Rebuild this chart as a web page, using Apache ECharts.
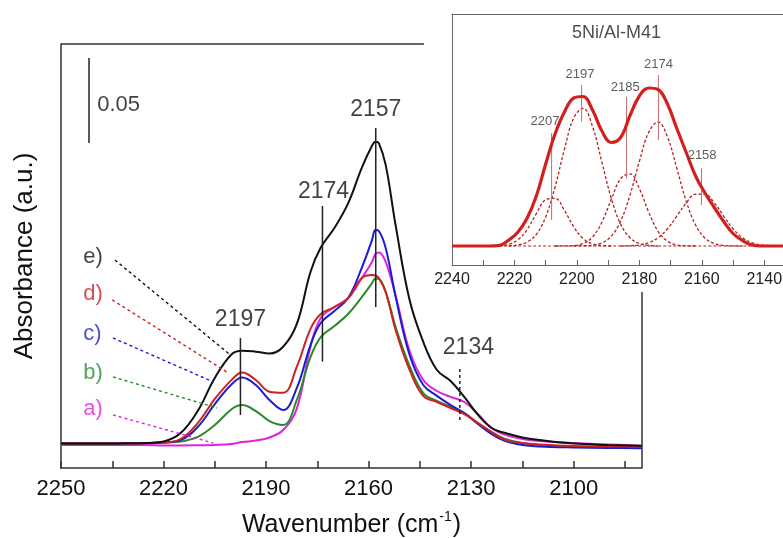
<!DOCTYPE html>
<html><head><meta charset="utf-8">
<script src="https://cdn.jsdelivr.net/npm/echarts@6/dist/echarts.min.js"></script>
<style>html,body{margin:0;padding:0;background:#fff}#c{width:783px;height:538px}</style>
</head><body><div id="c"></div><script>
// ---------- main spectra ----------
const wavenumbers = [2250,2240,2230,2225,2220,2215,2210,2205,2200,2197,2193,2189,2185,2181,2177,2174,2170,2166,2162,2159,2158,2157,2155,2152,2148,2144,2140,2136,2132,2128,2124,2120,2115,2110,2100,2090,2080];
const spectrumA = [.0136,.0136,.0136,.0136,.0133,.0133,.0134,.0136,.0142,.0153,.0162,.0180,.0224,.0350,.0715,.0884,.0949,.1002,.1120,.1215,.1262,.1270,.1215,.1008,.0690,.0519,.0454,.0419,.0389,.0318,.0236,.0195,.0171,.0159,.0147,.0139,.0131];
const spectrumB = [.0144,.0144,.0146,.0147,.0150,.0156,.0183,.0254,.0348,.0371,.0336,.0277,.0254,.0401,.0654,.0772,.0837,.0908,.1008,.1090,.1118,.1115,.1038,.0825,.0601,.0442,.0395,.0360,.0324,.0265,.0212,.0171,.0147,.0136,.0127,.0124,.0121];
const spectrumC = [.0144,.0144,.0146,.0147,.0150,.0165,.0242,.0377,.0495,.0534,.0489,.0401,.0342,.0472,.0725,.0855,.0926,.1002,.1180,.1344,.1403,.1397,.1297,.1002,.0666,.0489,.0425,.0371,.0324,.0259,.0200,.0159,.0136,.0127,.0121,.0118,.0116];
const spectrumD = [.0144,.0144,.0146,.0147,.0150,.0171,.0265,.0407,.0521,.0563,.0519,.0450,.0444,.0597,.0820,.0908,.0949,.1000,.1120,.1138,.1135,.1120,.1038,.0808,.0578,.0425,.0389,.0354,.0318,.0265,.0212,.0165,.0147,.0139,.0130,.0127,.0126];
const spectrumE = [.0144,.0144,.0146,.0147,.0156,.0206,.0336,.0531,.0672,.0692,.0686,.0675,.0715,.0850,.1156,.1300,.1415,.1560,.1770,.1900,.1924,.1916,.1787,.1420,.0990,.0743,.0578,.0513,.0419,.0313,.0236,.0206,.0180,.0165,.0144,.0136,.0131];

const mainTicks = [2250,2235,2220,2205,2190,2175,2160,2145,2130,2115,2100,2085];
const mainTickLabels = [2250,2220,2190,2160,2130,2100];

const sampleNames = ['a)','b)','c)','d)','e)'];
const sampleLabelX = 2243.5;
const sampleLabelY = [0.0348,0.0560,0.0790,0.1026,0.1244];
const leaderStart = [[2234.8,0.0313],[2234.8,0.0537],[2234.8,0.0767],[2235.0,0.0991],[2234.2,0.1226]];
const leaderEnd = [[2205.4,0.0147],[2204.3,0.0354],[2205.4,0.0507],[2201.0,0.0560],[2200.4,0.0666]];

const mainPeakNames = ['2197','2174','2157','2134'];
const mainPeakLineX = [2197.5,2173.5,2157.9,2133.3];
const mainPeakLineTop = [0.0767,0.1545,0.2005,0.0584];
const mainPeakLineBottom = [0.0313,0.0627,0.0949,0.0271];
const mainPeakTextX = [2197.5,2173.2,2157.9,2130.8];
const mainPeakTextY = [0.0873,0.1627,0.2111,0.0708];

const scaleBarX = 2241.8, scaleBarTop = 0.2417, scaleBarBottom = 0.1916;
const scaleBarText = '0.05', scaleTextX = 2239.4, scaleTextY = 0.214;

// ---------- inset (deconvolution) ----------
const insetWn = [2240,2228,2225,2222,2219,2216,2213,2210,2207,2204,2201,2198,2195,2192,2189,2186,2183,2180,2177,2174,2171,2168,2165,2162,2159,2156,2153,2150,2147,2144,2141,2134];
const envelope = [0,0,0.5,5.5,13.5,27.5,50,82,112,134,148,149.5,136,115,103.5,108.5,130.5,150,158,156.5,142,117.5,93.5,70,53,38.5,24.5,12.5,5.5,1,0,0];
const band2207 = [null,0,0.3,1.5,5.9,16.2,32.3,46.2,47.7,35.6,19.1,7.4,2.1,0.4,0,null,null,null,null,null,null,null,null,null,null,null,null,null,null,null,null,null];
const band2197 = [null,null,0,0.2,1.0,3.8,11.6,29.1,59,96.7,128.2,137.6,119.5,83.9,47.8,21.9,8.2,2.4,0.6,0,null,null,null,null,null,null,null,null,null,null,null,null];
const band2185 = [null,null,null,null,null,null,null,null,0,0.1,0.5,2.5,9.0,23.8,46.5,67.3,72.2,57.4,33.8,14.7,4.8,1.1,0.2,0,null,null,null,null,null,null,null,null];
const band2174 = [null,null,null,null,null,null,null,null,null,null,0,0.2,0.8,3.1,9.8,24.8,50.9,84.6,113.8,124,109.1,77.7,44.8,21,7.9,2.4,0.6,0.1,0,null,null,null];
const band2158 = [null,null,null,null,null,null,null,null,null,null,null,null,null,null,null,0,0.3,1.1,3.3,8.3,17.2,29.9,43.1,51.8,51.8,43.1,29.9,17.2,8.3,3.3,1.1,0];
const insetBaseline = [[2222,0],[2140,0]];

const insetTicks = [2240,2230,2220,2210,2200,2190,2180,2170,2160,2150,2140];
const insetTickLabels = [2240,2220,2200,2180,2160,2140];
const insetPeakNames = ['2207','2197','2185','2174','2158'];
const insetLineX = [2208.1,2198.5,2184.1,2173.9,2160.1];
const insetLineTop = [112.7,161,149.3,171,77.7];
const insetLineBottom = [26,124.3,67.7,106,41];
const insetTextX = [2210.2,2199.0,2184.5,2173.9,2159.9];
const insetTextY = [124.3,172,158.7,182,91];
const insetTitle = '5Ni/Al-M41', insetTitleX = 2187.3, insetTitleY = 213;

// ---------- build ----------
const FONT = '"Liberation Sans", Arial, sans-serif';
const colors = {a:'#e022e0', b:'#2a8a2a', c:'#1c1cd2', d:'#cc2222', e:'#111111'};
const sampleColors = [colors.a, colors.b, colors.c, colors.d, colors.e];
const zip = (xs, ys) => xs.map((x,i)=>[x, ys[i]]);
const plain = v => String(v);
const series = [];

function curve(data, color, width) {
  return {type:'line', data, symbol:'none', smooth:0.4, silent:true,
    lineStyle:{color, width}, xAxisIndex:0, yAxisIndex:0, z:3};
}
function seg(p1, p2, color, width, type, gi) {
  return {type:'line', data:[p1,p2], symbol:'none', silent:true, clip:false,
    lineStyle:{color, width, type:type||'solid'}, xAxisIndex:gi?1:0, yAxisIndex:gi?1:0, z:4};
}
function texts(items, style, gi) {
  return {type:'scatter', symbolSize:1, silent:true, itemStyle:{color:'rgba(0,0,0,0)'},
    xAxisIndex:gi?1:0, yAxisIndex:gi?1:0, z:6,
    data: items.map(it=>({name:it.t, value:[it.x,it.y], label:{color:it.c||style.color}})),
    label:Object.assign({show:true, formatter:'{b}', position:'inside', fontFamily:FONT}, style)};
}

series.push(curve(zip(wavenumbers, spectrumA), colors.a, 2));
series.push(curve(zip(wavenumbers, spectrumB), colors.b, 2));
series.push(curve(zip(wavenumbers, spectrumC), colors.c, 2));
series.push(curve(zip(wavenumbers, spectrumD), colors.d, 2));
series.push(curve(zip(wavenumbers, spectrumE), colors.e, 2));

for (let i=0;i<5;i++) series.push(seg(leaderStart[i], leaderEnd[i], sampleColors[i], 1.4, [3,3]));
series.push(texts(sampleNames.map((t,i)=>({t, x:sampleLabelX, y:sampleLabelY[i], c:sampleColors[i]})),
  {fontSize:22, align:'left', verticalAlign:'middle'}));

for (let i=0;i<4;i++) series.push(seg([mainPeakLineX[i], mainPeakLineTop[i]], [mainPeakLineX[i], mainPeakLineBottom[i]], '#222', 1.5, i===3?[3,3]:'solid'));
series.push(texts(mainPeakNames.map((t,i)=>({t, x:mainPeakTextX[i], y:mainPeakTextY[i]})),
  {fontSize:23, color:'#111', align:'center', verticalAlign:'middle'}));

series.push(seg([scaleBarX, scaleBarTop],[scaleBarX, scaleBarBottom], '#222', 1.5));
series.push(texts([{t:scaleBarText, x:scaleTextX, y:scaleTextY}], {fontSize:22, color:'#111', align:'left', verticalAlign:'middle'}));

series.push(seg([2250,0.25],[2143.8,0.25], '#333', 1.5));
series.push(seg([2080,0],[2080,0.1038], '#333', 1.5));

const insetSeries = (data, color, width, type, z) => ({type:'line', data, symbol:'none', smooth:0.4, silent:true,
  connectNulls:false, lineStyle:{color, width, type}, xAxisIndex:1, yAxisIndex:1, z:z||3});
series.push(insetSeries(insetBaseline, '#b02222', 1.2, [3,2]));
[band2207, band2197, band2185, band2174, band2158].forEach(b =>
  series.push(insetSeries(zip(insetWn, b), '#b02222', 1.3, [3,2])));
series.push(insetSeries(zip(insetWn, envelope), '#d41f1f', 3.2, 'solid', 5));
for (let i=0;i<5;i++) series.push(seg([insetLineX[i], insetLineTop[i]],[insetLineX[i], insetLineBottom[i]], '#c86a6a', 1, 'solid', 1));
series.push(texts(insetPeakNames.map((t,i)=>({t, x:insetTextX[i], y:insetTextY[i]})), {fontSize:13, color:'#333', align:'center', verticalAlign:'middle'}, 1));
series.push(texts([{t:insetTitle, x:insetTitleX, y:insetTitleY}], {fontSize:18, color:'#222', align:'center', verticalAlign:'middle'}, 1));

const axisCol = '#333';
const option = {
  animation:false,
  backgroundColor:'#fff',
  grid:[
    {left:61, right:141, top:44, bottom:70, show:false, outerBoundsMode:'none', containLabel:false},
    {left:452, right:0, top:14, bottom:273, show:true, borderWidth:0, backgroundColor:'#fff', outerBoundsMode:'none', containLabel:false}
  ],
  xAxis:[
    {gridIndex:0, type:'value', inverse:true, min:2080, max:2250,
     axisLine:{show:true, onZero:false, lineStyle:{color:axisCol, width:1.5}},
     axisTick:{show:true, inside:true, length:7, customValues:mainTicks, lineStyle:{color:axisCol, width:1.5}},
     axisLabel:{customValues:mainTickLabels, formatter:plain, fontSize:22, color:'#111', margin:10, fontFamily:FONT},
     splitLine:{show:false},
     name:'Wavenumber (cm{sup|-1})', nameLocation:'middle', nameGap:42,
     nameTextStyle:{fontSize:25, color:'#111', fontFamily:FONT, lineHeight:30,
       rich:{sup:{fontSize:14, color:'#111', fontFamily:FONT, verticalAlign:'top', lineHeight:30, padding:[0,1,12,1]}}}},
    {gridIndex:1, type:'value', inverse:true, min:2134, max:2240,
     axisLine:{show:true, onZero:false, lineStyle:{color:'#666', width:1}},
     axisTick:{show:true, inside:true, length:5, customValues:insetTicks, lineStyle:{color:'#666'}},
     axisLabel:{customValues:insetTickLabels, formatter:plain, fontSize:16, color:'#222', margin:7, fontFamily:FONT},
     splitLine:{show:false}},
    {gridIndex:1, type:'value', inverse:true, min:2134, max:2240, position:'top',
     axisLine:{show:true, onZero:false, lineStyle:{color:'#666', width:1}},
     axisTick:{show:false}, axisLabel:{show:false}, splitLine:{show:false}}
  ],
  yAxis:[
    {gridIndex:0, type:'value', min:0, max:0.25,
     axisLine:{show:true, onZero:false, lineStyle:{color:axisCol, width:1.5}},
     axisTick:{show:false}, axisLabel:{show:false}, splitLine:{show:false},
     name:'Absorbance (a.u.)', nameLocation:'middle', nameGap:23, nameRotate:90,
     nameTextStyle:{fontSize:26, color:'#111', fontFamily:FONT}},
    {gridIndex:1, type:'value', min:-19, max:232,
     axisLine:{show:true, onZero:false, lineStyle:{color:'#666', width:1}},
     axisTick:{show:false}, axisLabel:{show:false}, splitLine:{show:false}}
  ],
  series
};
echarts.init(document.getElementById('c'), null, {renderer:'canvas'}).setOption(option);
</script></body></html>
